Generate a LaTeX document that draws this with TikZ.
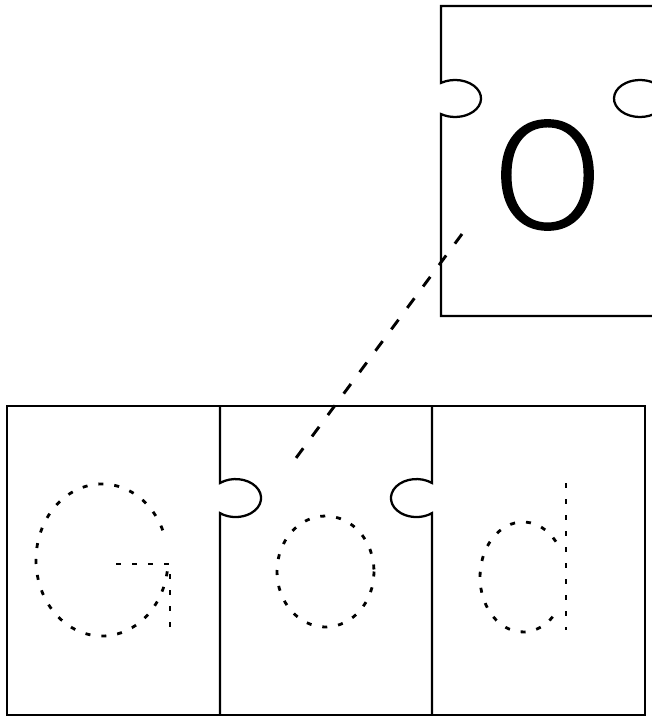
\documentclass[tikz,border=0pt]{standalone}
\usepackage{fontspec}
\IfFontExistsTF{DejaVuSans-ExtraLight.ttf}
	{\newfontfamily\letterfont[FakeBold=2]{DejaVuSans-ExtraLight.ttf}}
	{\newfontfamily\letterfont{Liberation Sans}}

\begin{document}
\begin{tikzpicture}[
		x=0.75pt, y=-0.75pt,
		piece/.style={draw=black, line width=1.7pt, line join=miter},
		guide/.style={draw=black, line width=2.1pt, dash pattern=on 3.75pt off 8.25pt},
		link/.style={draw=black, line width=2.2pt, dash pattern=on 9pt off 11pt},
		bigletter/.style={font=\letterfont\fontsize{108}{108}\selectfont, inner sep=0pt}
		]
		
		% Page frame
		\useasboundingbox (0,0) rectangle (651,716);
		
		% --- Loose piece (top right) ---
		\draw[piece] (441,6) -- (441,82.9)
		arc[start angle=-122.6, end angle=122.6, x radius=26, y radius=18.5]
		-- (441,316) -- (654,316) -- (654,114.1)
		arc[start angle=57.4, end angle=302.6, x radius=26, y radius=18.5]
		-- (654,6) -- cycle;
		
		% Letter on the loose piece
		\node[bigletter] (bigO) at (547.5,175) {O};
		
		% --- Row of three pieces (bottom) ---
		\draw[piece] (7,406) rectangle (645,715);
		
		% First joint, knob to the right
		\draw[piece] (220,406) -- (220,483)
		arc[start angle=-127.6, end angle=127.6, x radius=25.5, y radius=19]
		-- (220,715);
		
		% Second joint, knob to the left
		\draw[piece] (432,406) -- (432,483)
		arc[start angle=-52.4, end angle=-307.6, x radius=25.5, y radius=19]
		-- (432,715);
		
		% --- Traced letters ---
		% G
		\draw[guide] ([shift={(102,560)}]-23:66 and 76)
		arc[start angle=-23, end angle=-358, x radius=66, y radius=76];
		\draw[guide] (116,564) -- (170,564) -- (170,630);
		
		% o
		\draw[guide] (325.5,571.5) ellipse[x radius=48.5, y radius=55.5];
		
		% d
		\draw[guide] ([shift={(523,577)}]-40:43 and 55)
		arc[start angle=-40, end angle=-320, x radius=43, y radius=55];
		\draw[guide] (566,483) -- (566,630);
		
		% Where the loose piece goes
		\coordinate (otail) at (462,234);
		\coordinate (ohead) at (296,458);
		\draw[link] (otail) -- (ohead);
		
	\end{tikzpicture}
\end{document}
